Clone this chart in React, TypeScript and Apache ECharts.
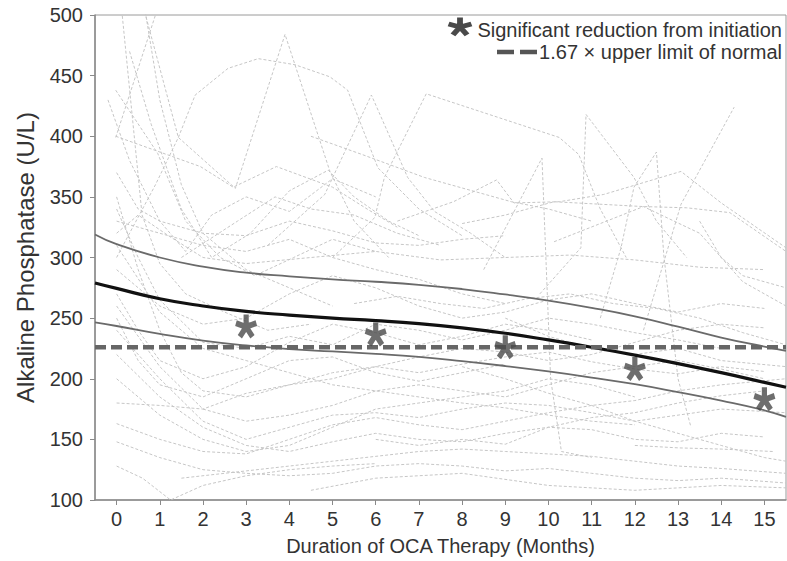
import React, { useEffect, useRef } from "react";
import * as echarts from "echarts";

// ---------- data ----------
const monthTicks = [0, 1, 2, 3, 4, 5, 6, 7, 8, 9, 10, 11, 12, 13, 14, 15];
const xTitle = "Duration of OCA Therapy (Months)";
const yTitle = "Alkaline Phosphatase (U/L)";
const legendSig = "Significant reduction from initiation";
const legendUln = "1.67 × upper limit of normal";

const meanCurve = [[-0.5, 279], [0, 274.5], [1, 266], [2, 260], [3, 255.5], [4, 252.5], [5, 250], [6, 248], [7, 245.5], [8, 242], [9, 237.5], [10, 232], [11, 226], [12, 219.5], [13, 212.5], [14, 205], [15, 197], [15.5, 193]];
const upperCurve = [[-0.5, 319], [0, 311], [1, 300], [2, 292.5], [3, 287.5], [4, 284.5], [5, 282], [6, 280], [7, 277.5], [8, 274], [9, 269.5], [10, 264.5], [11, 258.5], [12, 251.5], [13, 243], [14, 234], [15, 226.5], [15.5, 223]];
const lowerCurve = [[-0.5, 246.5], [0, 243.5], [1, 237], [2, 231.5], [3, 227.5], [4, 224.5], [5, 222.5], [6, 220.5], [7, 218], [8, 214.5], [9, 210.5], [10, 206], [11, 201], [12, 195.5], [13, 189], [14, 182], [15, 174], [15.5, 168.5]];
const ulnThreshold = 226;
const sigMonths = [3, 6, 9, 12, 15];
const sigValues = [243, 236.5, 226, 208, 183];

const p01 = [[0.1, 720], [0.67, 500], [1.43, 399], [2.75, 357], [3.9, 484], [4.94, 371], [5.5, 330], [6.3, 300]];
const p02 = [[0, 300], [0.9, 360], [1.43, 399], [1.82, 434], [2.58, 456], [3.28, 464], [4.13, 459], [4.94, 449], [5.35, 438], [6.05, 374], [7.0, 340], [8.0, 318]];
const p03 = [[-0.02, 399], [0.9, 500], [1.2, 560]];
const p04 = [[-0.2, 560], [0.13, 500], [0.59, 335], [1.0, 295], [1.6, 270], [2.5, 255], [3.5, 240], [4.5, 245]];
const p05 = [[-0.02, 438], [0.95, 386], [1.6, 330], [2.4, 300], [3.2, 285], [4.1, 300], [5.0, 315], [6.0, 305]];
const p06 = [[-0.02, 400], [1.94, 375], [2.7, 358], [3.7, 375], [5.0, 358], [5.8, 340], [6.5, 325]];
const p07 = [[1.5, 300], [2.8, 330], [3.67, 350], [4.5, 340], [5.5, 335], [6.5, 320], [7.5, 310]];
const p08 = [[3.5, 310], [4.82, 352], [5.9, 434], [6.74, 366], [7.36, 338], [8.2, 320], [9.0, 300]];
const p09 = [[5.0, 300], [5.98, 333], [6.2, 366], [7.17, 435], [10.25, 399], [10.7, 385], [11.2, 340], [11.8, 300]];
const p10 = [[4.5, 400], [5.68, 385], [7.13, 366], [9.14, 346], [10.0, 340], [11.0, 330]];
const p11 = [[6.5, 330], [7.8, 346], [8.8, 364], [9.2, 345], [10.25, 346], [11.28, 352], [13.07, 371], [14.0, 345], [15.5, 308]];
const p12 = [[8.5, 290], [9.85, 382], [10.05, 200], [10.3, 140], [11.0, 135]];
const p13 = [[9.8, 270], [10.75, 308], [10.87, 418], [11.98, 366], [12.5, 330], [13.2, 300]];
const p14 = [[11.2, 250], [11.68, 308], [11.98, 358], [12.5, 387], [12.67, 302], [13.0, 200], [13.3, 160]];
const p15 = [[12.2, 240], [13.07, 344], [14.3, 424]];
const p16 = [[8.0, 328], [9.0, 335], [10.13, 346], [12.2, 342], [13.2, 341], [14.2, 337], [15.5, 305]];
const p17 = [[10.13, 313], [12.2, 342], [13.5, 320], [14.5, 280], [15.5, 260]];
const p18 = [[0, 330], [1.0, 320], [2.0, 310], [3.0, 305], [4.0, 315], [5.0, 300], [6.0, 290], [7.0, 282], [8.0, 270], [9.0, 262]];
const p19 = [[0, 320], [0.5, 335], [1.2, 318], [2.0, 300], [3.0, 295], [4.5, 300], [6.0, 305], [7.5, 298], [9.0, 300], [10.5, 302], [12.0, 298], [13.5, 292], [15.0, 290]];
const p20 = [[0, 290], [1.0, 260], [2.0, 245], [3.0, 250], [4.0, 270], [5.0, 285], [6.0, 275], [7.0, 260], [8.0, 250], [9.0, 255], [10.0, 265], [11.0, 270], [12.0, 262], [13.0, 255], [14.0, 262], [15.0, 258]];
const p21 = [[0, 270], [0.5, 240], [1.0, 215], [2.0, 200], [3.0, 210], [4.0, 230], [5.0, 245], [6.0, 238], [7.0, 228], [8.0, 235], [9.0, 245], [10.0, 240], [11.0, 232]];
const p22 = [[0, 350], [0.5, 290], [1.0, 240], [1.5, 205], [2.0, 190], [3.0, 185], [4.0, 195], [5.0, 200], [6.0, 210], [7.0, 218], [8.0, 225], [9.0, 222], [10.0, 215], [11.0, 220], [12.0, 230], [13.0, 240], [14.0, 245], [15.0, 242]];
const p23 = [[0, 260], [1.0, 210], [2.0, 175], [3.0, 165], [4.0, 170], [5.0, 178], [6.0, 190], [7.0, 195], [8.0, 190], [9.0, 185], [10.0, 195], [11.0, 205], [12.0, 210], [13.0, 215], [14.0, 208], [15.0, 200]];
const p24 = [[0, 240], [1.0, 200], [2.0, 165], [3.0, 150], [4.0, 160], [5.0, 170], [6.0, 172], [7.0, 168], [8.0, 175], [9.0, 180], [10.0, 178], [11.0, 172], [12.0, 165], [13.0, 170], [14.0, 175], [15.5, 172]];
const p25 = [[0, 220], [1.0, 185], [2.0, 160], [3.0, 145], [4.0, 140], [5.0, 148], [6.0, 155], [7.0, 150], [8.0, 148], [9.0, 155], [10.0, 160], [11.0, 158], [12.0, 150], [13.0, 148], [14.0, 155], [15.0, 152]];
const p26 = [[0, 200], [1.0, 170], [2.0, 150], [3.0, 140], [4.0, 145], [5.0, 160], [6.0, 175], [7.0, 180], [8.0, 185], [9.0, 190], [10.0, 200], [11.0, 195], [12.0, 185]];
const p27 = [[0, 163], [1.0, 150], [2.0, 140], [3.0, 138], [4.0, 150], [5.0, 162], [6.0, 168], [7.0, 162], [8.0, 158], [9.0, 165], [10.0, 172], [11.0, 178], [12.0, 182], [13.0, 190], [14.0, 195], [15.5, 200]];
const p28 = [[0, 128], [0.6, 118], [1.25, 100], [2.0, 112], [3.0, 120], [4.0, 125], [5.0, 128], [6.0, 130]];
const p29 = [[0, 148], [1.0, 135], [2.0, 125], [3.0, 122], [4.0, 120], [5.0, 122], [6.0, 128], [7.0, 130], [8.0, 128], [9.0, 124], [10.0, 126], [11.0, 122], [12.0, 118], [13.0, 116], [14.0, 118], [15.5, 114]];
const p30 = [[1.5, 118], [3.0, 124], [5.0, 132], [7.0, 140], [8.0, 142], [9.0, 140], [11.0, 136], [12.0, 132], [13.0, 128], [14.0, 126], [15.5, 122]];
const p31 = [[0, 180], [1.0, 178], [2.0, 175], [3.0, 188], [4.0, 195], [5.0, 205], [6.0, 210], [7.0, 205], [8.0, 212], [9.0, 218], [10.0, 222], [11.0, 214], [12.0, 208], [13.0, 204], [14.0, 210], [15.0, 206]];
const p32 = [[0, 340], [0.5, 300], [1.0, 265], [2.0, 230], [3.0, 225], [4.0, 235], [5.0, 228], [6.0, 245], [7.0, 240], [8.0, 232], [9.0, 240], [10.0, 250], [11.0, 245], [12.0, 238], [13.0, 232], [14.0, 225]];
const p33 = [[0, 370], [0.5, 340], [1.0, 330], [2.0, 320], [3.0, 318], [4.0, 330], [5.0, 322], [6.0, 312], [7.0, 310], [8.0, 315], [9.0, 318]];
const p34 = [[4.5, 108], [6.0, 118], [8.0, 122], [10.0, 112], [12.0, 108], [14.0, 112], [15.5, 110]];
const p35 = [[6.0, 150], [7.0, 145], [8.0, 150], [9.0, 146], [10.0, 160], [11.0, 168], [12.0, 172], [13.0, 180], [14.0, 186], [15.0, 190]];
const p36 = [[8.0, 210], [9.0, 200], [10.0, 188], [11.0, 178], [12.0, 165], [13.0, 155], [14.0, 145], [15.0, 135], [15.5, 132]];
const p37 = [[12.0, 145], [13.0, 143], [14.0, 142], [15.2, 140]];
const p38 = [[5.5, 262], [6.5, 268], [7.5, 262], [8.5, 258], [9.5, 266], [10.5, 270], [11.5, 262], [12.5, 258], [13.5, 250], [14.5, 238], [15.5, 228]];
const p39 = [[0.3, 470], [0.8, 410], [1.5, 340], [2.2, 300], [3.1, 320], [4.0, 355], [4.9, 372], [5.5, 350], [6.3, 330], [7.0, 318]];
const p40 = [[-0.2, 430], [0.3, 380], [1.0, 330], [1.6, 305], [2.2, 335], [3.0, 350], [4.0, 338], [5.0, 365], [6.0, 350]];
const p41 = [[0.4, 560], [1.0, 430], [1.5, 360], [2.0, 320], [3.0, 290], [4.0, 275], [5.0, 260]];
const p42 = [[0, 250], [0.5, 215], [1.0, 195], [2.0, 185], [3.0, 200], [4.0, 215], [5.0, 218], [6.0, 205], [7.0, 198], [8.0, 205], [9.0, 212]];
const p43 = [[0, 310], [1.0, 255], [2.0, 225], [3.0, 215], [4.0, 205], [5.0, 195], [6.0, 190], [7.0, 185], [8.0, 180], [9.0, 176], [10.0, 170], [11.0, 165], [12.0, 162]];
const p44 = [[13.5, 330], [14.0, 300], [14.5, 285], [15.5, 275]];
const p45 = [[9.0, 250], [10.0, 235], [11.0, 225], [12.0, 220], [13.0, 225], [14.0, 215], [15.5, 210]];

const patients = [p01, p02, p03, p04, p05, p06, p07, p08, p09, p10, p11, p12, p13, p14, p15, p16, p17, p18, p19, p20, p21, p22, p23, p24, p25, p26, p27, p28, p29, p30, p31, p32, p33, p34, p35, p36, p37, p38, p39, p40, p41, p42, p43, p44, p45];

// ---------- asterisk glyph (5 arms) ----------
function asteriskPath(L: number, w: number): string {
  let d = "";
  for (let k = 0; k < 5; k++) {
    const a = (k * 72 * Math.PI) / 180;
    const dx = Math.sin(a), dy = -Math.cos(a);
    const nx = Math.cos(a), ny = Math.sin(a);
    const b = -w * 0.6;
    const pts = [
      [dx * b + nx * w, dy * b + ny * w],
      [dx * L + nx * w, dy * L + ny * w],
      [dx * L - nx * w, dy * L - ny * w],
      [dx * b - nx * w, dy * b - ny * w],
    ];
    d += "M" + pts.map((p) => p[0].toFixed(2) + " " + p[1].toFixed(2)).join(" L") + " Z ";
  }
  return d;
}
const ASTER_D = asteriskPath(12, 2.9);
let registered = false;

const FONT = "'Liberation Sans', Arial, Helvetica, sans-serif";

export default function App() {
  const ref = useRef<HTMLDivElement>(null);
  useEffect(() => {
    if (!ref.current) return;
    if (!registered) {
      echarts.graphic.registerShape("asteriskMark", echarts.graphic.extendPath(ASTER_D, {}) as any);
      registered = true;
    }
    const chart = echarts.init(ref.current, undefined, { renderer: "svg" });

    const spaghetti = patients.map((p, i) => ({
      type: "line",
      name: "patient" + (i + 1),
      data: p,
      showSymbol: false,
      symbol: "none",
      silent: true,
      z: 1,
      lineStyle: { color: "#c6c6c6", width: 1, type: [3, 2] },
    }));

    const curve = (name: string, data: number[][], color: string, width: number, z: number) => ({
      type: "line",
      name,
      data,
      smooth: 0.5,
      showSymbol: false,
      symbol: "none",
      z,
      lineStyle: { color, width },
    });

    const option: any = {
      animation: false,
      backgroundColor: "#ffffff",
      textStyle: { fontFamily: FONT },
      grid: { left: 95, right: 1, top: 15, bottom: 60, show: true, borderColor: "#9a9a9a", borderWidth: 1 },
      xAxis: {
        type: "value",
        min: -0.5,
        max: 15.5,
        name: xTitle,
        nameLocation: "middle",
        nameGap: 36,
        nameTextStyle: { fontSize: 20, color: "#333", fontFamily: FONT },
        axisLine: { show: true, onZero: false, lineStyle: { color: "#8a8a8a", width: 1.5 } },
        axisTick: { show: true, length: 5, inside: false, customValues: monthTicks, lineStyle: { color: "#8a8a8a" } },
        axisLabel: { customValues: monthTicks, fontSize: 20, color: "#333", margin: 9, fontFamily: FONT },
        splitLine: { show: false },
      },
      yAxis: {
        type: "value",
        min: 100,
        max: 500,
        interval: 50,
        name: yTitle,
        nameLocation: "middle",
        nameGap: 58,
        nameTextStyle: { fontSize: 24, color: "#333", fontFamily: FONT },
        axisLine: { show: true, onZero: false, lineStyle: { color: "#8a8a8a", width: 1.5 } },
        axisTick: { show: true, length: 5, lineStyle: { color: "#8a8a8a" } },
        axisLabel: { fontSize: 20, color: "#333", margin: 12, fontFamily: FONT },
        splitLine: { show: false },
      },
      series: [
        ...spaghetti,
        curve("upper", upperCurve, "#6a6a6a", 1.8, 3),
        curve("lower", lowerCurve, "#6a6a6a", 1.8, 3),
        curve("mean", meanCurve, "#111111", 3.2, 4),
        {
          type: "line",
          name: legendUln,
          data: [[-0.5, ulnThreshold], [15.5, ulnThreshold]],
          showSymbol: false,
          symbol: "none",
          z: 5,
          lineStyle: { color: "#666666", width: 4.5, type: [11, 5] },
        },
        {
          type: "scatter",
          name: legendSig,
          data: sigMonths.map((m, i) => [m, sigValues[i]]),
          symbol: "path://" + ASTER_D,
          symbolSize: [22, 24],
          z: 6,
          itemStyle: { color: "#4a4a4a" },
        },
      ],
      graphic: [
        {
          type: "asteriskMark",
          x: 460,
          y: 27,
          scaleX: 1.0,
          scaleY: 0.8,
          style: { fill: "#4a4a4a" },
          z: 100,
        },
        {
          type: "text",
          x: 782,
          y: 30,
          style: { text: legendSig, fill: "#333", font: "20px " + FONT, align: "right", verticalAlign: "middle" },
          z: 100,
        },
        {
          type: "line",
          shape: { x1: 497, y1: 52, x2: 538, y2: 52 },
          style: { stroke: "#555", lineWidth: 4.5, lineDash: [17, 6] },
          z: 100,
        },
        {
          type: "text",
          x: 782,
          y: 52,
          style: { text: legendUln, fill: "#333", font: "20px " + FONT, align: "right", verticalAlign: "middle" },
          z: 100,
        },
      ],
    };
    chart.setOption(option);
    return () => chart.dispose();
  }, []);
  return <div ref={ref} style={{ position: "fixed", left: 0, top: 0, width: 787, height: 561 }} />;
}
